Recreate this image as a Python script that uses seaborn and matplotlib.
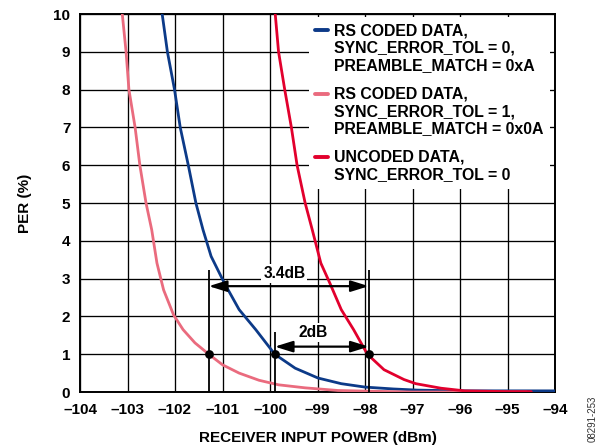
import matplotlib
matplotlib.use("Agg")
import matplotlib.pyplot as plt
import numpy as np
import pandas as pd
import seaborn as sns
from matplotlib.legend_handler import HandlerLine2D
from matplotlib.transforms import Affine2D

# ---------------- data ----------------
rs0_x = [-102.27, -102.16, -102.01, -101.89, -101.72, -101.56, -101.41, -101.24, -100.96,
         -100.65, -100.30, -99.90, -99.47, -98.99, -98.50, -98.0, -97.4, -96.9, -96.0, -94.0]
rs0_y = [10, 9, 8, 7, 6, 5, 4.29, 3.59, 2.88, 2.18, 1.65, 1.0, 0.63, 0.37, 0.22, 0.13,
         0.08, 0.05, 0.03, 0.03]

rs1_x = [-103.11, -103.03, -102.97, -102.84, -102.74, -102.61, -102.49, -102.38, -102.24,
         -102.03, -101.83, -101.58, -101.29, -101.0, -100.65, -100.23, -99.82, -99.26,
         -98.57, -97.88, -97.0, -94.6]
rs1_y = [10, 9, 8, 7, 6, 5, 4.29, 3.41, 2.70, 2.04, 1.65, 1.30, 1.0, 0.72, 0.50, 0.31,
         0.19, 0.11, 0.04, 0.02, 0.0, 0.0]

unc_x = [-99.89, -99.82, -99.69, -99.55, -99.43, -99.26, -99.11, -98.93, -98.74, -98.50,
         -98.24, -97.95, -97.6, -97.18, -96.93, -96.4, -95.9, -95.0, -94.5]
unc_y = [10, 9, 8, 7, 6, 5, 4.29, 3.41, 2.88, 2.18, 1.65, 1.0, 0.59, 0.33, 0.22, 0.1,
         0.03, 0.01, 0.01]

series_labels = [
    "RS CODED DATA,\nSYNC_ERROR_TOL = 0,\nPREAMBLE_MATCH = 0xA",
    "RS CODED DATA,\nSYNC_ERROR_TOL = 1,\nPREAMBLE_MATCH = 0x0A",
    "UNCODED DATA,\nSYNC_ERROR_TOL = 0",
]
series_colors = ["#0c3a88", "#ea6b7e", "#e2002d"]

x_ticks = list(range(-104, -93))
x_ticklabels = ["\u2013104", "\u2013103", "\u2013102", "\u2013101", "\u2013100", "\u201399",
                "\u201398", "\u201397", "\u201396", "\u201395", "\u201394"]
y_ticks = list(range(0, 11))

# PER = 1% operating points and annotation extents
mark_x = [-101.29, -99.90, -97.92]
mark_y = [1, 1, 1]
vline_top = [3.23, 1.6, 3.23]
gap_34_y = 2.8
gap_2_y = 1.2
gap_labels = ["3.4dB", "2dB"]

# ---------------- style ----------------
sns.set_theme(style="white")
plt.rcParams['font.family'] = ['Liberation Sans', 'DejaVu Sans']
plt.rcParams['font.weight'] = 'bold'

fig = plt.figure(figsize=(6.05, 4.48), dpi=100)
ax = fig.add_axes([80 / 605, 56 / 448, 475 / 605, 378 / 448])

df = pd.concat([
    pd.DataFrame({"x": rs0_x, "y": rs0_y, "s": series_labels[0]}),
    pd.DataFrame({"x": rs1_x, "y": rs1_y, "s": series_labels[1]}),
    pd.DataFrame({"x": unc_x, "y": unc_y, "s": series_labels[2]}),
])

for lab, col in zip(series_labels, series_colors):
    sub = df[df["s"] == lab]
    sns.lineplot(data=sub, x="x", y="y", sort=False, estimator=None, color=col,
                 lw=2.0, label=lab, ax=ax, zorder=3)
for ln in ax.get_lines():
    ln.set_solid_joinstyle("round")

ax.set_xlim(-104, -94)
ax.set_ylim(0, 10)
ax.set_xticks(x_ticks)
ax.set_xticklabels(x_ticklabels)
ax.set_yticks(y_ticks)
ax.set_yticklabels([str(v) for v in y_ticks])
ax.grid(True, color="black", lw=0.95)
ax.set_axisbelow(True)
ax.tick_params(length=0, labelsize=11, colors="black")
ax.tick_params(axis="y", pad=7)
ax.tick_params(axis="x", pad=8)
for lbl in ax.get_xticklabels() + ax.get_yticklabels():
    lbl.set_fontweight("bold")
for sp in ax.spines.values():
    sp.set_color("black")
    sp.set_linewidth(1.4)

ax.set_xlabel("RECEIVER INPUT POWER (dBm)", fontsize=11, fontweight="bold", color="black")
ax.set_ylabel("PER (%)", fontsize=11, fontweight="bold", color="black")
ax.xaxis.set_label_coords(0.5, -0.103)
ax.yaxis.set_label_coords(-0.101, 0.5)

# annotations
ax.vlines(mark_x, [0, 0, 0], vline_top, color="black", lw=1.3, zorder=4)
sns.scatterplot(x=mark_x, y=mark_y, color="black", s=40, ax=ax, zorder=6,
                edgecolor="black", linewidth=0)
arrow_style = dict(arrowstyle="<|-|>,head_length=0.9,head_width=0.28", color="black",
                   lw=1.6, shrinkA=0, shrinkB=0)
ax.annotate("", xy=(mark_x[0], gap_34_y), xytext=(mark_x[2], gap_34_y),
            arrowprops=arrow_style, zorder=5)
ax.annotate("", xy=(mark_x[1], gap_2_y), xytext=(mark_x[2], gap_2_y),
            arrowprops=arrow_style, zorder=5)
ax.text(-99.7, 3.13, gap_labels[0], ha="center", va="center", fontsize=11.2,
        fontweight="bold", color="black", zorder=5,
        bbox=dict(fc="white", ec="none", pad=1.5))
ax.text(-99.1, 1.58, gap_labels[1], ha="center", va="center", fontsize=11.2,
        fontweight="bold", color="black", zorder=5,
        bbox=dict(fc="white", ec="none", pad=1.5))


# legend with handle aligned to first line of each label
class TopLineHandler(HandlerLine2D):
    def __init__(self, nlines, **kw):
        super().__init__(**kw)
        self.nlines = nlines

    def create_artists(self, legend, orig_handle, xdescent, ydescent, width, height,
                       fontsize, trans):
        arts = super().create_artists(legend, orig_handle, xdescent, ydescent, width,
                                      height, fontsize, trans)
        off = (self.nlines - 1) / 2 * fontsize * 1.16
        for a in arts:
            a.set_transform(Affine2D().translate(0, off) + trans)
        return arts


handles, labels = ax.get_legend_handles_labels()
hmap = {h: TopLineHandler(l.count("\n") + 1) for h, l in zip(handles, labels)}
leg = ax.legend(handles, labels, handler_map=hmap, loc="upper right",
                bbox_to_anchor=(0.99, 0.992), fontsize=11.4, frameon=True,
                fancybox=False, framealpha=1, facecolor="white", edgecolor="none",
                handlelength=0.8, handletextpad=0.4, labelspacing=0.85,
                borderpad=0.4, borderaxespad=0)
for t in leg.get_texts():
    t.set_fontweight("bold")
    t.set_color("black")
for h in leg.legend_handles:
    h.set_linewidth(2.8)
leg.set_zorder(7)

fig.text(593 / 605, 0.065, "08291-253", rotation=90, fontsize=7, fontweight="normal",
         color="#333333", ha="center", va="center")

fig.savefig("out.png", dpi=100)
